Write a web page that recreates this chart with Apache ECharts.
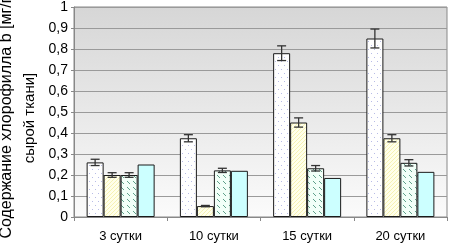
<!DOCTYPE html>
<html>
<head>
<meta charset="utf-8">
<script src="https://cdn.jsdelivr.net/npm/echarts@6/dist/echarts.min.js"></script>
<style>
  html, body { margin: 0; padding: 0; background: #fff; }
  #main { width: 450px; height: 244px; }
</style>
</head>
<body>
<div id="main"></div>
<script>
// data
var categories = ['3 сутки', '10 сутки', '15 сутки', '20 сутки'];
var yTicks = [0, 0.1, 0.2, 0.3, 0.4, 0.5, 0.6, 0.7, 0.8, 0.9, 1];
var seriesA = [0.26, 0.375, 0.78, 0.85];
var errA = [0.015, 0.017, 0.035, 0.045];
var seriesB = [0.20, 0.052, 0.45, 0.375];
var errB = [0.011, 0.003, 0.022, 0.017];
var seriesC = [0.20, 0.222, 0.232, 0.258];
var errC = [0.011, 0.01, 0.013, 0.015];
var seriesD = [0.25, 0.22, 0.186, 0.215];

var BAR_W = 17;

// fill patterns
function makePattern(w, h, bg, draw) {
    var c = document.createElement('canvas');
    c.width = w; c.height = h;
    var ctx = c.getContext('2d');
    ctx.fillStyle = bg;
    ctx.fillRect(0, 0, w, h);
    draw(ctx);
    return { image: c, repeat: 'repeat' };
}
var dotFill = makePattern(6, 8, '#ffffff', function (ctx) {
    ctx.fillStyle = '#b8bce6';
    ctx.fillRect(2, 1, 1, 1);
    ctx.fillRect(5, 5, 1, 1);
});
var crossFill = makePattern(4, 4, '#ffffea', function (ctx) {
    ctx.fillStyle = '#f6f2b4';
    ctx.fillRect(0, 0, 1, 1);
    ctx.fillRect(2, 2, 1, 1);
    ctx.fillRect(1, 3, 1, 1);
    ctx.fillRect(3, 1, 1, 1);
});
var dashFill = makePattern(6, 6, '#f2fff8', function (ctx) {
    ctx.strokeStyle = '#5fa08a';
    ctx.lineWidth = 1;
    ctx.beginPath();
    ctx.moveTo(1, 1); ctx.lineTo(4, 4);
    ctx.stroke();
});

function errData(vals, errs) {
    return vals.map(function (v, i) { return [i, v, errs[i]]; });
}

function errSeries(vals, errs, idx) {
    return {
        type: 'custom',
        z: 5,
        encode: { x: 0, y: 1 },
        data: errData(vals, errs),
        renderItem: function (params, api) {
            var i = api.value(0), v = api.value(1), e = api.value(2);
            var x = api.coord([i, v])[0] + (idx - 1.5) * BAR_W;
            var y1 = api.coord([i, v + e])[1];
            var y2 = api.coord([i, v - e])[1];
            var s = { stroke: '#333', lineWidth: 1.3 };
            return {
                type: 'group',
                children: [
                    { type: 'line', shape: { x1: x, y1: y1, x2: x, y2: y2 }, style: s },
                    { type: 'line', shape: { x1: x - 4.5, y1: y1, x2: x + 4.5, y2: y1 }, style: s },
                    { type: 'line', shape: { x1: x - 4.5, y1: y2, x2: x + 4.5, y2: y2 }, style: s }
                ]
            };
        }
    };
}

function barSeries(vals, fill) {
    return {
        type: 'bar',
        data: vals,
        barWidth: BAR_W,
        barGap: 0,
        itemStyle: { color: fill, borderColor: '#1a1a1a', borderWidth: 1 }
    };
}

var myChart = echarts.init(document.getElementById('main'));
var option = {
    animation: false,
    grid: {
        left: 74, right: 3, top: 7, bottom: 27,
        show: true,
        borderColor: '#888',
        borderWidth: 1,
        backgroundColor: {
            type: 'linear', x: 0, y: 0, x2: 0, y2: 1,
            colorStops: [{ offset: 0, color: '#d6d6d6' }, { offset: 1, color: '#fbfbfb' }]
        }
    },
    xAxis: {
        type: 'category',
        data: categories,
        axisLine: { lineStyle: { color: '#888' } },
        axisTick: { show: true, length: 4, lineStyle: { color: '#888' } },
        axisLabel: { color: '#000', fontFamily: 'Liberation Sans', fontSize: 13, margin: 13 }
    },
    yAxis: {
        type: 'value',
        min: yTicks[0],
        max: yTicks[yTicks.length - 1],
        interval: 0.1,
        axisLine: { show: true, lineStyle: { color: '#888' } },
        axisTick: { show: true, length: 3, lineStyle: { color: '#888' } },
        splitLine: { lineStyle: { color: '#9a9a9a' } },
        axisLabel: {
            color: '#000', fontFamily: 'Liberation Sans', fontSize: 14, margin: 6,
            formatter: function (v) { return String(+v.toFixed(1)).replace('.', ','); }
        }
    },
    graphic: [
        {
            type: 'text', x: 7, y: 118, rotation: Math.PI / 2,
            style: { text: 'Содержание хлорофилла b [мг/г', font: '16px "Liberation Sans"', fill: '#000', align: 'center', verticalAlign: 'middle' }
        },
        {
            type: 'text', x: 30, y: 118, rotation: Math.PI / 2,
            style: { text: 'сырой ткани]', font: '15px "Liberation Sans"', fill: '#000', align: 'center', verticalAlign: 'middle' }
        }
    ],
    series: [
        barSeries(seriesA, dotFill),
        barSeries(seriesB, crossFill),
        barSeries(seriesC, dashFill),
        barSeries(seriesD, '#ccffff'),
        errSeries(seriesA, errA, 0),
        errSeries(seriesB, errB, 1),
        errSeries(seriesC, errC, 2)
    ]
};
myChart.setOption(option);
</script>
</body>
</html>
